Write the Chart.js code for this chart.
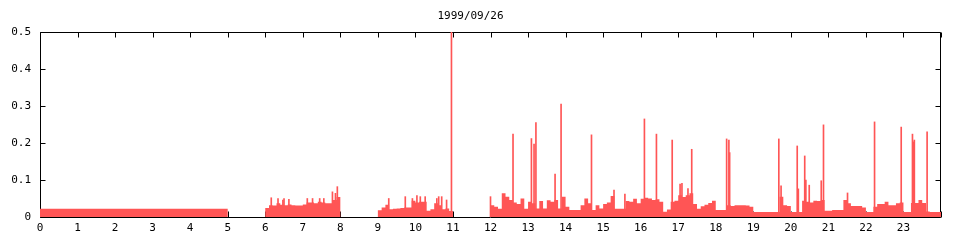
<!DOCTYPE html>
<html>
<head>
<meta charset="utf-8">
<title>1999/09/26</title>
<script src="https://cdn.jsdelivr.net/npm/chart.js@4.4.1/dist/chart.umd.min.js"></script>
<style>
  html, body { margin: 0; padding: 0; background: #fff; }
  canvas { display: block; }
</style>
</head>
<body>
<canvas id="myChart" width="960" height="240"></canvas>
<script>
// chart title
var chartTitle = '1999/09/26';

// logging blocks: start hour and hours covered by each value
var blockStart = [0, 6, 9, 12];
var blockBin = [5, 0.1, 0.1, 0.1];

// 0h - 5h: flat level
var block0 = [0.022];
// 6h - 8h
var block1 = [0.024, 0.032, 0.031, 0.037, 0.033, 0.032, 0.034, 0.032, 0.031, 0.031,
              0.034, 0.039, 0.039, 0.037, 0.041, 0.039, 0.037, 0.037, 0.046, 0.054];
// 9h - 11h
var block2 = [0.018, 0.026, 0.033, 0.021, 0.022, 0.023, 0.024, 0.026, 0.026, 0.044,
              0.039, 0.041, 0.041, 0.017, 0.021, 0.037, 0.032, 0.021, 0.023, 0.016];
// 12h - 24h
var block3 = [0.032, 0.028, 0.022, 0.064, 0.055, 0.046, 0.039, 0.035, 0.050, 0.022,
              0.041, 0.037, 0.023, 0.043, 0.023, 0.045, 0.041, 0.046, 0.023, 0.055,
              0.028, 0.019, 0.019, 0.019, 0.032, 0.050, 0.037, 0.019, 0.032, 0.023,
              0.035, 0.039, 0.057, 0.022, 0.022, 0.022, 0.043, 0.041, 0.049, 0.037,
              0.049, 0.052, 0.050, 0.046, 0.048, 0.041, 0.014, 0.020, 0.041, 0.044,
              0.059, 0.054, 0.059, 0.064, 0.035, 0.022, 0.029, 0.033, 0.038, 0.044,
              0.019, 0.019, 0.019, 0.032, 0.030, 0.032, 0.032, 0.032, 0.031, 0.028,
              0.0135, 0.0135, 0.0135, 0.0135, 0.0135, 0.0135, 0.0135, 0.055, 0.032, 0.030,
              0.0135, 0.0135, 0.0135, 0.044, 0.041, 0.039, 0.044, 0.043, 0.046, 0.017,
              0.017, 0.019, 0.019, 0.019, 0.046, 0.037, 0.030, 0.030, 0.030, 0.026,
              0.0135, 0.0135, 0.028, 0.035, 0.035, 0.041, 0.032, 0.032, 0.037, 0.039,
              0.0135, 0.0135, 0.038, 0.038, 0.046, 0.038, 0.015, 0.0135, 0.0135, 0.0135];

// short peaks (hour, value)
var spikeHours = [6.16, 6.34, 6.47, 6.50, 6.63, 7.12, 7.26, 7.45, 7.56, 7.79, 7.87, 7.92,
                  9.29, 9.73, 9.92, 10.04, 10.13, 10.26, 10.57, 10.62, 10.70, 10.83, 10.96,
                  12.0, 12.60, 13.09, 13.16, 13.21, 13.72, 13.88, 14.69, 15.29, 15.58,
                  16.10, 16.42, 16.84, 17.05, 17.10, 17.26, 17.36,
                  18.29, 18.35, 18.37, 19.68, 19.74, 20.17, 20.20, 20.37, 20.40, 20.49,
                  20.81, 20.87, 21.51, 22.23, 22.94, 23.24, 23.27, 23.29, 23.63];
var spikeValues = [0.052, 0.050, 0.046, 0.050, 0.048, 0.050, 0.050, 0.050, 0.050, 0.068, 0.064, 0.082,
                   0.050, 0.055, 0.050, 0.058, 0.055, 0.055, 0.050, 0.055, 0.055, 0.046, 0.5,
                   0.055, 0.224, 0.212, 0.197, 0.255, 0.116, 0.305, 0.222, 0.073, 0.062,
                   0.265, 0.224, 0.208, 0.089, 0.091, 0.077, 0.183,
                   0.211, 0.208, 0.174, 0.211, 0.084, 0.192, 0.076, 0.165, 0.100, 0.086,
                   0.098, 0.249, 0.065, 0.257, 0.243, 0.224, 0.203, 0.208, 0.230];

var RED = 'rgb(255, 85, 85)';

var blocks = [block0, block1, block2, block3];
var areaPoints = [];
blocks.forEach(function (vals, b) {
    vals.forEach(function (v, i) {
        areaPoints.push({x: blockStart[b] + i * blockBin[b], y: v});
    });
    areaPoints.push({x: blockStart[b] + vals.length * blockBin[b], y: 0});
});
var spikePoints = spikeHours.map(function (h, i) { return {x: h, y: spikeValues[i]}; });

// gnuplot style frame with inward ticks, drawn under the data
var framePlugin = {
    id: 'frame',
    beforeDatasetsDraw: function (chart) {
        var ctx = chart.ctx, a = chart.chartArea;
        var xs = chart.scales.x, ys = chart.scales.y;
        var L = Math.round(a.left) + 0.5, R = Math.round(a.right) - 0.5;
        var T = Math.round(a.top) + 0.5, B = Math.round(a.bottom) + 0.5;
        ctx.save();
        ctx.strokeStyle = '#000';
        ctx.lineWidth = 1;
        ctx.beginPath();
        xs.ticks.forEach(function (t) {
            var px = Math.round(xs.getPixelForValue(t.value)) + 0.5;
            ctx.moveTo(px, T); ctx.lineTo(px, T + 5);
            ctx.moveTo(px, B); ctx.lineTo(px, B - 6);
        });
        ys.ticks.forEach(function (t) {
            var py = Math.round(ys.getPixelForValue(t.value)) + 0.5;
            ctx.moveTo(L, py); ctx.lineTo(L + 5, py);
            ctx.moveTo(R, py); ctx.lineTo(R - 5, py);
        });
        ctx.rect(L, T, R - L, B - T);
        ctx.stroke();
        ctx.restore();
    }
};

Chart.defaults.font.family = "'DejaVu Sans Mono', monospace";
Chart.defaults.font.size = 11;
Chart.defaults.color = '#000';

var ctx = document.getElementById('myChart').getContext('2d');
var chart = new Chart(ctx, {
    type: 'line',
    data: {
        datasets: [{
            type: 'line',
            data: areaPoints,
            stepped: true,
            fill: 'origin',
            backgroundColor: RED,
            borderColor: 'rgba(0,0,0,0)',
            borderWidth: 0,
            pointRadius: 0
        }, {
            type: 'bar',
            data: spikePoints,
            backgroundColor: RED,
            borderWidth: 0,
            barThickness: 1
        }]
    },
    options: {
        responsive: false,
        animation: false,
        layout: { padding: { left: 0, right: 19, top: 0, bottom: 0 } },
        plugins: {
            legend: { display: false },
            tooltip: { enabled: false },
            title: {
                display: true,
                text: chartTitle,
                font: { size: 11, weight: 'normal', lineHeight: 1.2 },
                padding: { top: 10, bottom: 8.8 }
            }
        },
        scales: {
            x: {
                type: 'linear',
                min: 0,
                max: 24,
                offset: false,
                grid: { display: false, drawTicks: false },
                border: { display: false },
                ticks: {
                    stepSize: 1,
                    autoSkip: false,
                    maxRotation: 0,
                    padding: 5,
                    callback: function (v) { return v === 24 ? '' : v; }
                },
                afterFit: function (s) { s.height = 23; }
            },
            y: {
                min: 0,
                max: 0.5,
                grid: { display: false, drawTicks: false },
                border: { display: false },
                ticks: { stepSize: 0.1, padding: 9 },
                afterFit: function (s) { s.width = 40; }
            }
        }
    },
    plugins: [framePlugin]
});
</script>
</body>
</html>
